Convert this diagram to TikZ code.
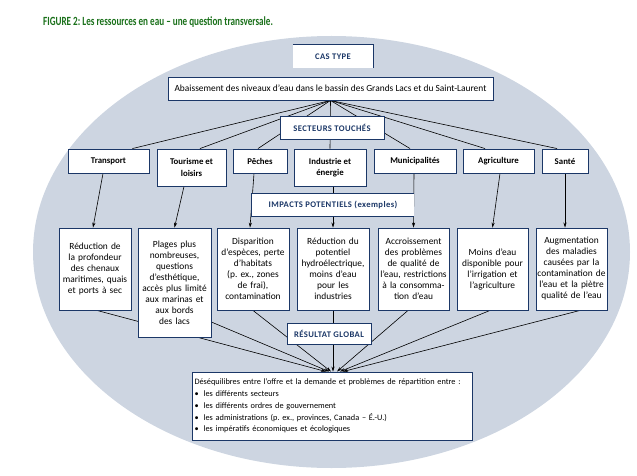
\documentclass[tikz,border=0pt]{standalone}
\usepackage{fontspec}
\setmainfont{Carlito}
\usepackage{graphicx}
\usetikzlibrary{arrows.meta,calc}
\definecolor{navy}{HTML}{1B3767}
\definecolor{ellfill}{HTML}{CDD5E1}
\definecolor{titlegreen}{HTML}{1A701A}
\pgfdeclarelayer{bg}
\pgfdeclarelayer{lines}
\pgfsetlayers{bg,lines,main}
\frenchspacing
\begin{document}
\begin{tikzpicture}[x=1pt,y=-1pt,
  box/.style={draw=navy, line width=0.9pt, fill=white, inner sep=0pt, align=center, font=\fontsize{9.4}{11}\selectfont\frenchspacing},
  hdr/.style={fill=white, inner sep=0pt, align=center, font=\fontsize{8.6}{9}\selectfont\bfseries\addfontfeatures{LetterSpace=5}, text=navy},
  sect/.style={box, font=\fontsize{8.8}{11.5}\selectfont\bfseries},
  imp/.style={box, text width=#1, minimum width=#1},
  conn/.style={line width=0.6pt, black},
  arr/.style={conn, -{Stealth[length=5pt,width=3.2pt]}},
]
\useasboundingbox (0,0) rectangle (637,476);

% title
\node[anchor=west, text=titlegreen, font=\fontsize{12.5}{13}\selectfont\bfseries, inner sep=0pt] (title) at (43,22)
  {\scalebox{0.73}[1]{FIGURE 2: Les ressources en eau – une question transversale.}};

% header boxes
\node[hdr, minimum width=80pt, minimum height=23pt] (ct) at (333,56.5) {CAS TYPE};
\draw[navy, line width=0.9pt] (ct.north west) -- (ct.north east) -- (ct.south east);

\node[box, minimum width=325pt, minimum height=23pt] (ab) at (330.5,88.5)
  {Abaissement des niveaux d’eau dans le bassin des Grands Lacs et du Saint-Laurent};

\node[hdr, draw=navy, line width=0.9pt, minimum width=104pt, minimum height=23pt] (st) at (332,127.5) {SECTEURS TOUCHÉS};

% sectors
\node[sect, minimum width=81pt, minimum height=24pt] (transport) at (108.5,161) {Transport};
\node[sect, minimum width=69pt, minimum height=37pt] (tourisme) at (191.5,167.5) {Tourisme et\\loisirs};
\node[sect, minimum width=54pt, minimum height=24pt] (peches) at (260,161) {Pêches};
\node[sect, minimum width=72pt, minimum height=37pt] (industrie) at (330,167.5) {Industrie et\\énergie};
\node[sect, minimum width=82pt, minimum height=24pt] (muni) at (415,161) {Municipalités};
\node[sect, minimum width=71pt, minimum height=24pt] (agri) at (498.5,161) {Agriculture};
\node[sect, minimum width=46pt, minimum height=24pt] (sante) at (565,161) {Santé};

% impacts header
\node[hdr, minimum width=162pt, minimum height=22pt] (ip) at (333,205) {IMPACTS POTENTIELS (exemples)};
\draw[navy, line width=0.9pt] (ip.north east) -- (ip.north west) -- (ip.south west) -- (ip.south east);

% impact boxes
\node[imp=72pt, minimum height=82pt] (i1) at (95,269)
  {Réduction de\\la profondeur\\des chenaux\\maritimes, quais\\et ports à sec};
\node[imp=73pt, minimum height=109pt] (i2) at (174.5,282.5)
  {Plages plus\\nombreuses,\\questions\\d’esthétique,\\accès plus limité\\aux marinas et\\aux bords\\des lacs};
\node[imp=72pt, minimum height=82pt] (i3) at (253,269)
  {Disparition\\d’espèces, perte\\d’habitats\\(p. ex., zones\\de frai),\\contamination};
\node[imp=72pt, minimum height=82pt] (i4) at (333,269)
  {Réduction du\\potentiel\\hydroélectrique,\\moins d’eau\\pour les\\industries};
\node[imp=71pt, minimum height=82pt] (i5) at (413.5,269)
  {Accroissement\\des problèmes\\de qualité de\\l’eau, restrictions\\à la consomma-\\tion d’eau};
\node[imp=71pt, minimum height=82pt] (i6) at (492.5,269)
  {Moins d’eau\\disponible pour\\l’irrigation et\\l’agriculture};
\node[imp=71pt, minimum height=82pt] (i7) at (571.5,269)
  {Augmentation\\des maladies\\causées par la\\contamination de\\l’eau et la piètre\\qualité de l’eau};

% result
\node[hdr, draw=navy, line width=0.9pt, minimum width=84pt, minimum height=21pt] (rg) at (329,333.5) {RÉSULTAT GLOBAL};

\node[box, minimum width=280pt, minimum height=68pt, text width=275pt, align=left,
      font=\fontsize{8.3}{11.8}\selectfont\frenchspacing] (dq) at (332,406)
  {Déséquilibres entre l’offre et la demande et problèmes de répartition entre~:\\
   \textbullet\hspace{5pt}les différents secteurs\\
   \textbullet\hspace{5pt}les différents ordres de gouvernement\\
   \textbullet\hspace{5pt}les administrations (p. ex., provinces, Canada – É.-U.)\\
   \textbullet\hspace{5pt}les impératifs économiques et écologiques};

% background ellipse
\begin{pgfonlayer}{bg}
  \fill[ellfill] (331.5,252) ellipse [x radius=298.5pt, y radius=216pt];
\end{pgfonlayer}

% connectors
\begin{pgfonlayer}{lines}
  \foreach \n/\dx in {transport/24, tourisme/8.5, peches/-2, muni/-5, agri/-13.5, sante/-8}
    \draw[conn] (ab.south) -- ($(\n.north)+(\dx,0)$);
  \draw[conn] (ab.south) -- (industrie.north);

  \draw[arr] ($(transport.south)+(-5.5,0)$) -- ($(i1.north)+(-2,0)$);
  \draw[arr] ($(tourisme.south)+(-7.5,0)$) -- (i2.north);
  \draw[arr] ($(peches.south)+(-6,0)$) -- ($(i3.north)+(-3,0)$);
  \draw[arr] ($(industrie.south)+(3,0)$) -- (i4.north);
  \draw[arr] ($(muni.south)+(-1,0)$) -- (i5.north);
  \draw[arr] ($(agri.south)+(1.5,0)$) -- (i6.north);
  \draw[arr] (sante.south) -- ($(i7.north)+(-6.5,0)$);

  \draw[arr] ($(i1.south)+(2,0)$) -- ($(dq.north)+(-6,0)$);
  \draw[arr] ($(i2.center)+(0,24)$) -- ($(dq.north)+(-3,0)$);
  \draw[arr] (i3.south) -- ($(dq.north)+(-1,0)$);
  \draw[arr] (i4.south) -- ($(dq.north)+(1,0)$);
  \draw[arr] ($(i5.south)+(-5.5,0)$) -- ($(dq.north)+(5,0)$);
  \draw[arr] ($(i6.south)+(-2.5,0)$) -- ($(dq.north)+(8,0)$);
  \draw[arr] ($(i7.south)+(8.5,0)$) -- ($(dq.north)+(11,0)$);
\end{pgfonlayer}
\end{tikzpicture}
\end{document}
